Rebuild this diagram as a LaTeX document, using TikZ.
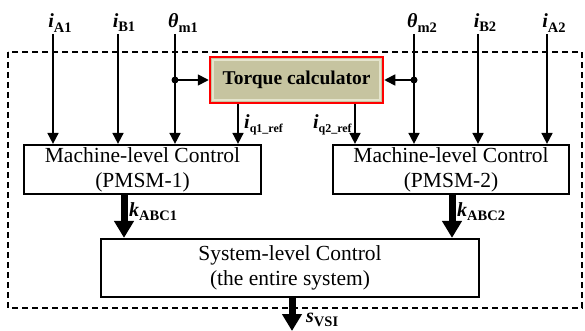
\documentclass[tikz,border=0pt]{standalone}
\usepackage{fontspec}
\setmainfont{Liberation Serif}
\usetikzlibrary{arrows.meta}
\newcommand\sym[2]{\textbf{\textit{#1}}\raisebox{-0.45ex}{\fontsize{14.5}{14.5}\selectfont\textbf{#2}}}
\newcommand\symq[2]{\textbf{\textit{#1}}\raisebox{-0.5ex}{\fontsize{12}{12}\selectfont\textbf{#2}}}
\definecolor{tqfill}{RGB}{198,196,160}
\definecolor{tqin}{RGB}{228,228,205}
\begin{document}
\begin{tikzpicture}[x=1pt,y=-1pt,
  mbox/.style={draw, line width=2.2pt, align=center, inner sep=0pt, font=\fontsize{21.5}{25}\selectfont},
  tqbox/.style={draw=red, line width=2.5pt, fill=tqfill, inner sep=0pt, font=\bfseries\fontsize{19.5}{22}\selectfont},
  thinarr/.style={line width=1.7pt, -{Triangle[width=11pt,length=11pt]}},
  thickarr/.style={line width=7pt, -{Triangle[width=19pt,length=17pt]}},
  lbl/.style={inner sep=0pt, font=\fontsize{20}{20}\selectfont},
  dot/.style={circle, fill, inner sep=0pt, minimum size=7pt}
]
\useasboundingbox (0,0) rectangle (585,331);
% dashed frame
\draw[line width=1.8pt, dash pattern=on 6pt off 4pt] (8,52) rectangle (582,308);
% boxes
\node[tqbox, minimum width=173pt, minimum height=46pt] (tq) at (296.5,80) {Torque calculator};
\draw[tqin, line width=2pt] ([shift={(4,4)}]tq.north west) rectangle ([shift={(-4,-4)}]tq.south east);
\node[mbox, minimum width=237pt, minimum height=49pt] (m1) at (142.5,169.5) {Machine-level Control\\(PMSM-1)};
\node[mbox, minimum width=236pt, minimum height=49pt] (m2) at (451,169.5) {Machine-level Control\\(PMSM-2)};
\node[mbox, minimum width=378pt, minimum height=58pt] (sys) at (290,268) {System-level Control\\(the entire system)};
% input labels
\node[lbl] (lA1) at (60,23) {\sym{i}{A1}};
\node[lbl] (lB1) at (124,23) {\sym{i}{B1}};
\node[lbl] (lt1) at (183,23) {\sym{θ}{m1}};
\node[lbl] (lt2) at (422,23) {\sym{θ}{m2}};
\node[lbl] (lB2) at (485,23) {\sym{i}{B2}};
\node[lbl] (lA2) at (554,23) {\sym{i}{A2}};
\coordinate (cA1) at (53,34);
\coordinate (cB1) at (118,34);
\coordinate (ct1) at (175,34);
\coordinate (ct2) at (414,34);
\coordinate (cB2) at (478,34);
\coordinate (cA2) at (547,34);
\draw[thinarr] (cA1) -- (cA1 |- m1.north);
\draw[thinarr] (cB1) -- (cB1 |- m1.north);
\draw[thinarr] (ct1) -- (ct1 |- m1.north);
\draw[thinarr] (ct2) -- (ct2 |- m2.north);
\draw[thinarr] (cB2) -- (cB2 |- m2.north);
\draw[thinarr] (cA2) -- (cA2 |- m2.north);
% branch dots
\node[dot] (d1) at (ct1 |- tq.west) {};
\node[dot] (d2) at (ct2 |- tq.west) {};
\draw[thinarr] (d1.center) -- (tq.west);
\draw[thinarr] (d2.center) -- (tq.east);
% iq refs
\coordinate (q1) at (238,0);
\coordinate (q2) at (355,0);
\draw[thinarr] (q1 |- tq.south) -- (q1 |- m1.north);
\draw[thinarr] (q2 |- tq.south) -- (q2 |- m2.north);
\node[lbl, anchor=west] (lq1) at (244,125) {\symq{i}{q1\_ref}};
\node[lbl, anchor=east] (lq2) at (352,125) {\symq{i}{q2\_ref}};
% k arrows
\coordinate (k1) at (124,0);
\coordinate (k2) at (452,0);
\draw[thickarr] (k1 |- m1.south) -- (k1 |- sys.north);
\draw[thickarr] (k2 |- m2.south) -- (k2 |- sys.north);
\node[lbl, anchor=west] (lk1) at (129,212) {\sym{k}{ABC1}};
\node[lbl, anchor=west] (lk2) at (457,212) {\sym{k}{ABC2}};
% output
\coordinate (sout) at (292,331);
\draw[thickarr] (sout |- sys.south) -- (sout);
\node[lbl, anchor=west] (ls) at (306,320) {\sym{s}{VSI}};
\end{tikzpicture}
\end{document}
